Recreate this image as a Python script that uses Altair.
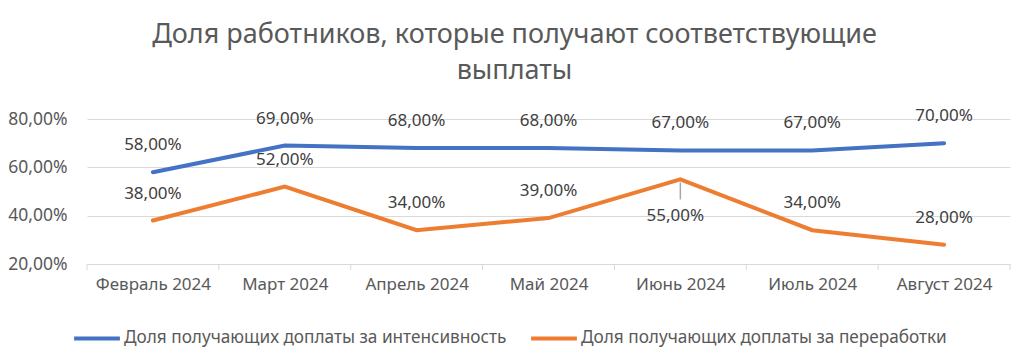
import json
import altair as alt
import pandas as pd

months = ["Февраль 2024", "Март 2024", "Апрель 2024", "Май 2024", "Июнь 2024", "Июль 2024", "Август 2024"]
series_names = ["Доля получающих доплаты за интенсивность", "Доля получающих доплаты за переработки"]
intensity = [0.58, 0.69, 0.68, 0.68, 0.67, 0.67, 0.70]
overtime = [0.38, 0.52, 0.34, 0.39, 0.55, 0.34, 0.28]
colors = ["#4472C4", "#ED7D31"]
y_ticks = [0.2, 0.4, 0.6, 0.8]

rows = []
for m, a, b in zip(months, intensity, overtime):
    rows.append({"month": m, "series": series_names[0], "value": a})
    rows.append({"month": m, "series": series_names[1], "value": b})
df = pd.DataFrame(rows)

n = len(months)
# category boundaries (between months) for the small x-axis tick marks
df_bounds = pd.DataFrame({"idx": [i - 0.5 for i in range(n + 1)]})

FONT = "Noto Sans"
GRAY = "#595959"
AXIS_GRAY = "#d9d9d9"
months_js = json.dumps(months, ensure_ascii=False)

x = alt.X("idx:Q", title=None,
          scale=alt.Scale(domain=[-0.5, n - 0.5], nice=False, zero=False),
          axis=alt.Axis(values=list(range(n)), labelExpr=months_js + "[datum.value]",
                        domainColor=AXIS_GRAY, ticks=False, grid=False,
                        labelAngle=0, labelFontSize=17, labelColor=GRAY,
                        labelFont=FONT, labelPadding=12, labelFlush=False,
                        labelOverlap=False))
y = alt.Y("value:Q", title=None,
          scale=alt.Scale(domain=[0.2, 0.8], nice=False, zero=False),
          axis=alt.Axis(values=y_ticks, labelExpr="replace(format(datum.value, '.2%'), '.', ',')",
                        domain=False, ticks=False, grid=True, gridColor=AXIS_GRAY,
                        labelFontSize=17.5, labelColor=GRAY, labelFont=FONT, labelPadding=20))
color = alt.Color("series:N", sort=series_names,
                  scale=alt.Scale(domain=series_names, range=colors),
                  legend=alt.Legend(title=None, orient="none", direction="horizontal",
                                    legendX=-15, legendY=194, symbolType="stroke",
                                    symbolStrokeWidth=4, symbolSize=2100, labelFontSize=17.2,
                                    labelColor=GRAY, labelFont=FONT, columnPadding=16,
                                    labelOffset=2, labelLimit=600))

base = alt.Chart(df).transform_calculate(
    idx="indexof(" + months_js + ", datum.month)",
    label="replace(format(datum.value, '.2%'), '.', ',')",
)

ticks = alt.Chart(df_bounds).mark_rule(color=AXIS_GRAY, strokeWidth=1).encode(
    x=x, y=alt.value(145), y2=alt.value(151),
)

lines = base.mark_line(strokeWidth=4, strokeCap="round").encode(x=x, y=y, color=color)

is_below = "datum.month == 'Июнь 2024' && datum.series == '" + series_names[1] + "'"

above = base.transform_filter("!(" + is_below + ")").mark_text(
    dy=-27, fontSize=17, color="#404040", font=FONT, baseline="middle"
).encode(x=x, y=y, text="label:N")

below = base.transform_filter(is_below).mark_text(
    dy=37, dx=-5, fontSize=17, color="#404040", font=FONT, baseline="middle"
).encode(x=x, y=y, text="label:N")

leader = base.transform_filter(is_below).mark_rule(
    color="#a6a6a6", strokeWidth=1.5, yOffset=3, y2Offset=20
).encode(x=x, y=y, y2="value:Q")

chart = alt.layer(lines, ticks, leader, above, below).properties(
    width=923, height=145,
    background="white",
    autosize=alt.AutoSizeParams(type="none"),
    padding={"left": 79, "top": 111, "right": 6, "bottom": 90},
    title=alt.TitleParams(
        text=["Доля работников, которые получают соответствующие", "выплаты"],
        fontSize=27, color=GRAY, font=FONT, fontWeight="normal", anchor="middle",
        dx=-34, offset=22, lineHeight=36,
    ),
).configure_view(strokeWidth=0).configure_axisX(grid=False)

chart.save("out.html", embed_options={"renderer": "svg", "actions": False})
